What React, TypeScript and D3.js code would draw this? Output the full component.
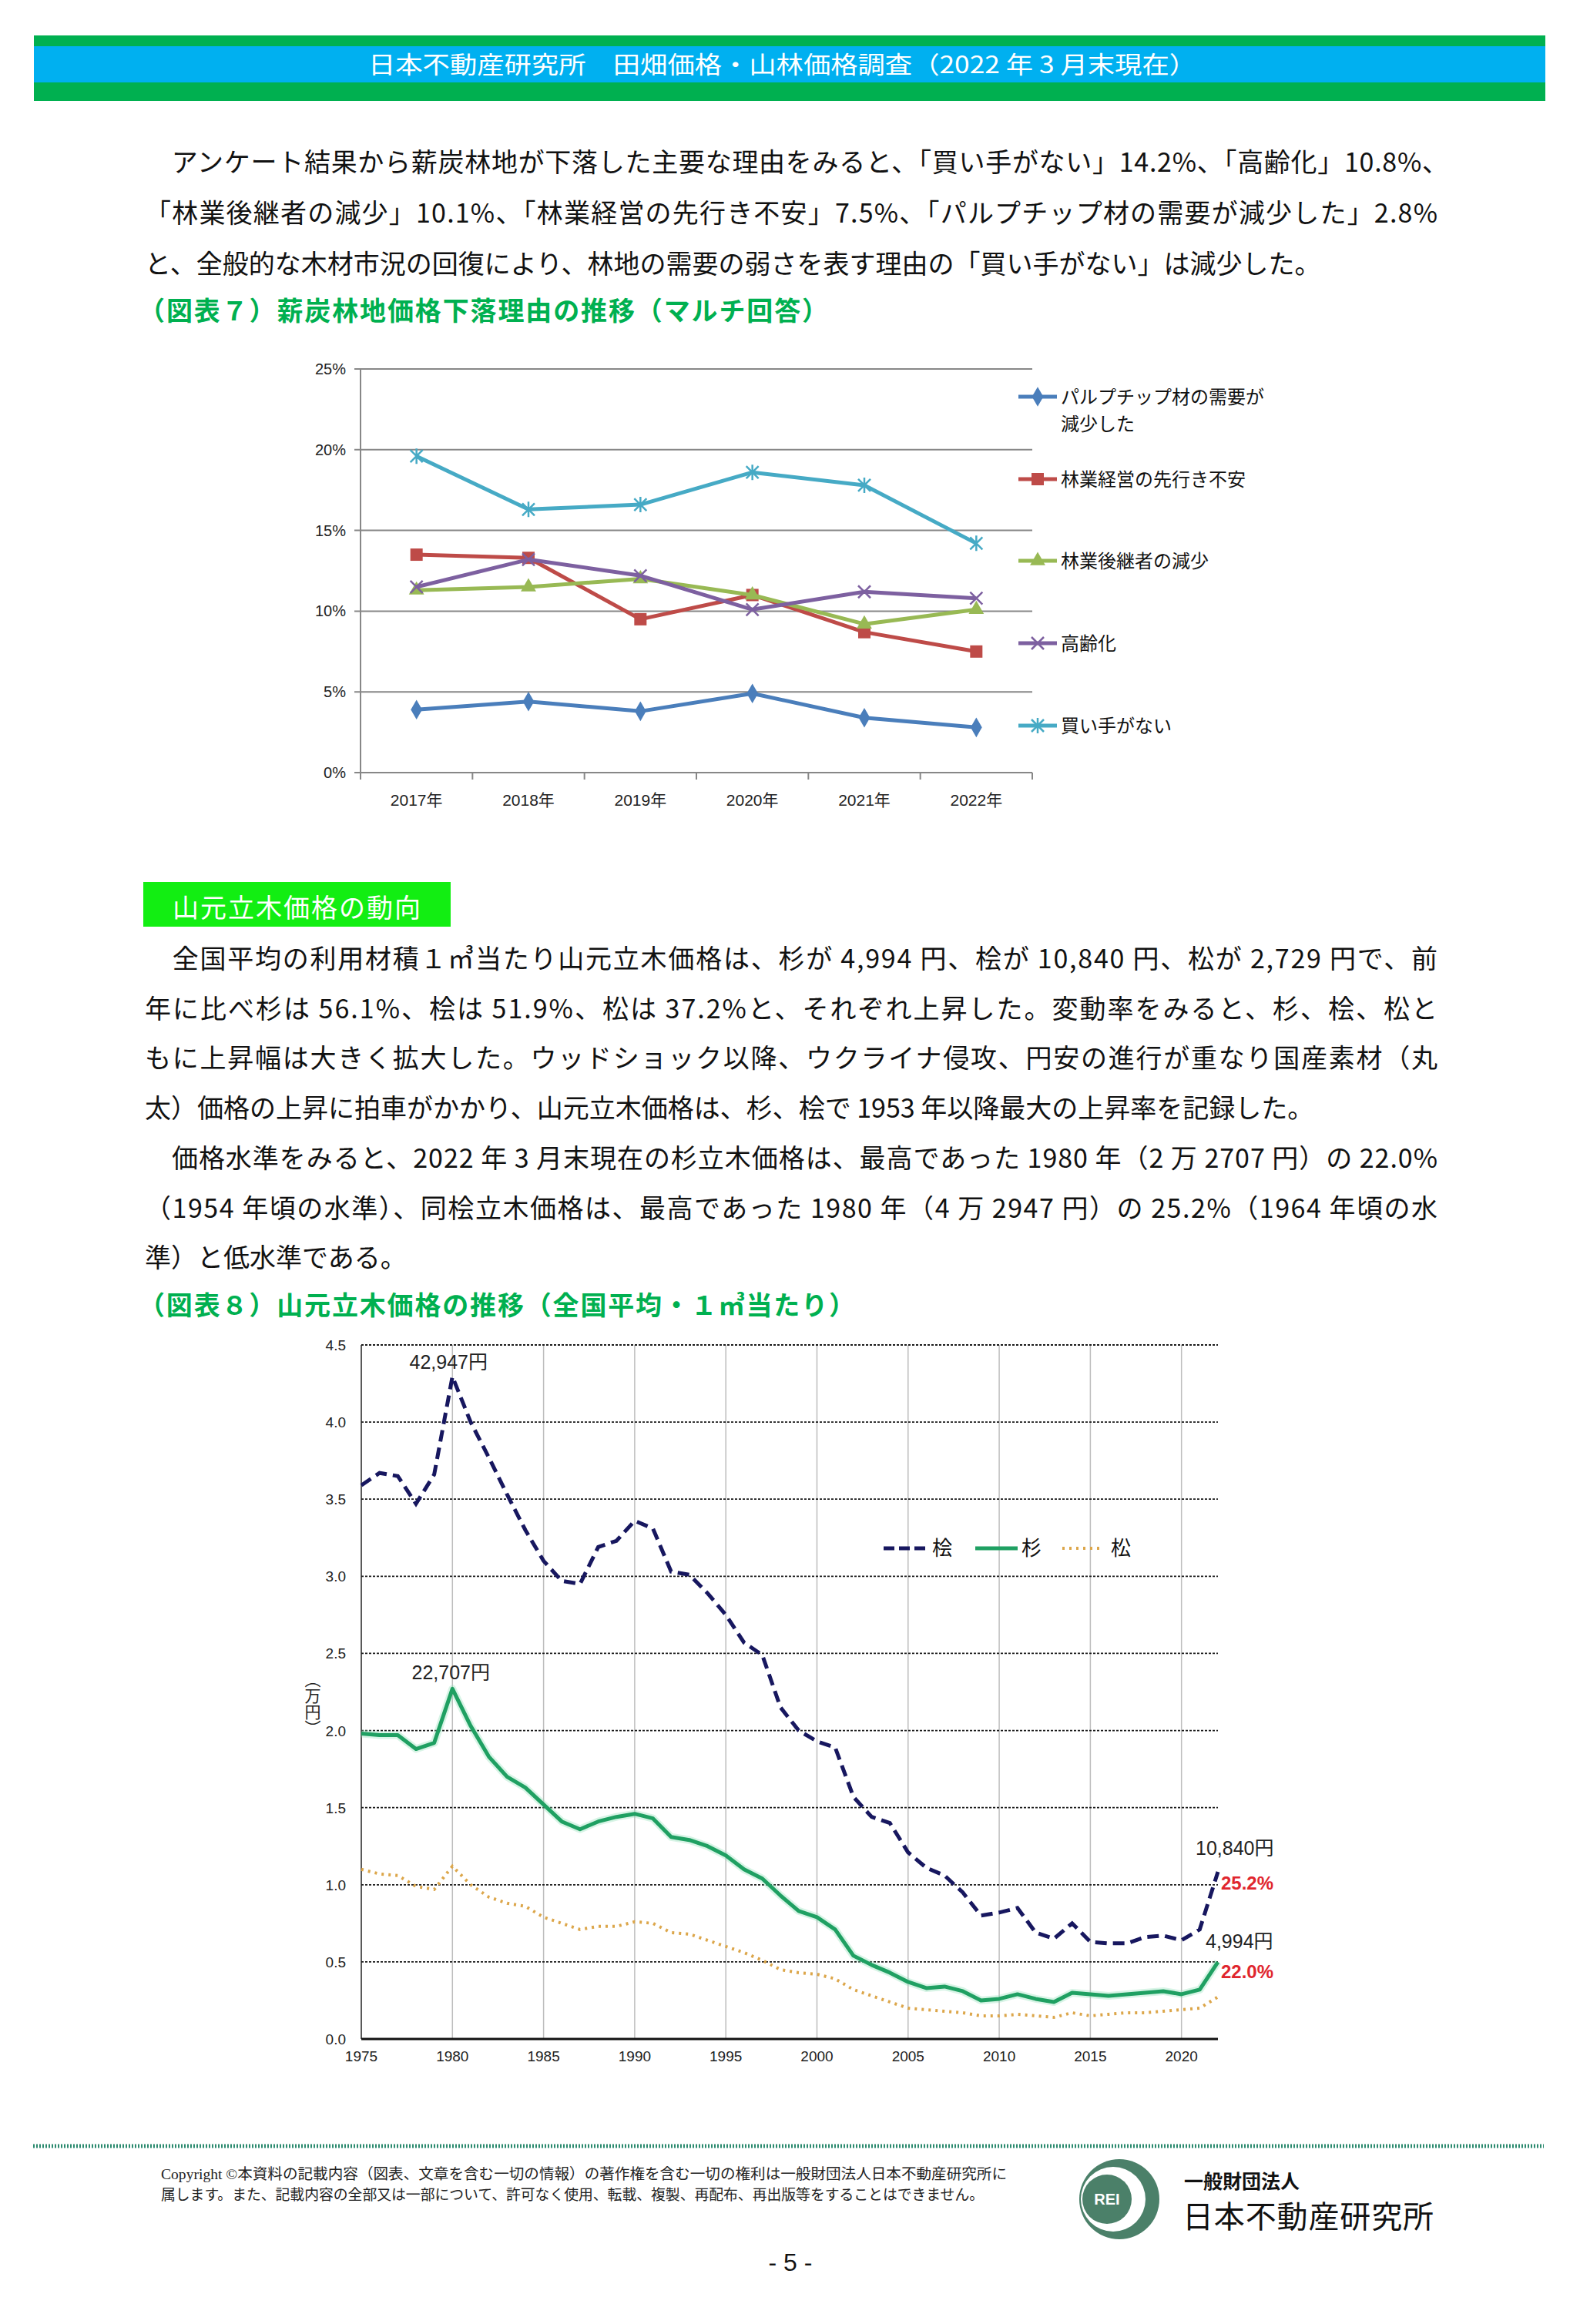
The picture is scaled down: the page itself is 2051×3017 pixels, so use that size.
import React from "react";
import * as d3 from "d3";

// ---- chart 7 : reasons for the fall in fuelwood forest land prices (%)
const reasonYears = ["2017年", "2018年", "2019年", "2020年", "2021年", "2022年"];
const pulpChipDemand = [3.9, 4.4, 3.8, 4.9, 3.4, 2.8];
const managementAnxiety = [13.5, 13.3, 9.5, 11.0, 8.7, 7.5];
const successorDecline = [11.3, 11.5, 12.0, 11.0, 9.2, 10.1];
const agingOwners = [11.5, 13.2, 12.2, 10.1, 11.2, 10.8];
const noBuyers = [19.6, 16.3, 16.6, 18.6, 17.8, 14.2];
const reasonTicks = [0, 5, 10, 15, 20, 25];

// ---- chart 8 : standing timber prices (10,000 yen per m3)
const priceYears = d3.range(1975, 2023);
const hinokiPrice = [
  3.59, 3.67, 3.65, 3.47, 3.66, 4.2947, 4.0, 3.77, 3.53, 3.3,
  3.1, 2.97, 2.95, 3.19, 3.23, 3.36, 3.31, 3.03, 3.01, 2.89,
  2.75, 2.57, 2.49, 2.15, 2.0, 1.93, 1.89, 1.57, 1.44, 1.4,
  1.21, 1.11, 1.06, 0.95, 0.8, 0.82, 0.85, 0.69, 0.65, 0.75,
  0.63, 0.62, 0.62, 0.66, 0.67, 0.64, 0.71, 1.084,
];
const sugiPrice = [
  1.98, 1.97, 1.97, 1.88, 1.92, 2.2707, 2.03, 1.83, 1.7, 1.63,
  1.52, 1.41, 1.36, 1.41, 1.44, 1.46, 1.43, 1.31, 1.29, 1.25,
  1.19, 1.1, 1.04, 0.93, 0.83, 0.79, 0.71, 0.54, 0.48, 0.43,
  0.37, 0.33, 0.34, 0.31, 0.25, 0.26, 0.29, 0.26, 0.24, 0.3,
  0.29, 0.28, 0.29, 0.3, 0.31, 0.29, 0.32, 0.4994,
];
const matsuPrice = [
  1.1, 1.07, 1.06, 0.99, 0.97, 1.12, 1.0, 0.92, 0.88, 0.86,
  0.79, 0.75, 0.71, 0.73, 0.73, 0.76, 0.75, 0.69, 0.68, 0.64,
  0.6, 0.56, 0.51, 0.45, 0.43, 0.42, 0.39, 0.32, 0.28, 0.24,
  0.2, 0.19, 0.18, 0.17, 0.15, 0.15, 0.16, 0.15, 0.14, 0.17,
  0.15, 0.16, 0.17, 0.17, 0.18, 0.19, 0.2, 0.2729,
];
const priceTicks = d3.range(0, 4.51, 0.5);
const priceYearTicks = d3.range(1975, 2021, 5);
const peakYear = 1980;
const hinokiLevelPct = "25.2%";
const sugiLevelPct = "22.0%";
const unitLabel = "（万円）";

// ---- page text
const headerTitle = "日本不動産研究所　田畑価格・山林価格調査（2022 年 3 月末現在）";
const introLines = [
  "　アンケート結果から薪炭林地が下落した主要な理由をみると、「買い手がない」14.2%、「高齢化」10.8%、",
  "「林業後継者の減少」10.1%、「林業経営の先行き不安」7.5%、「パルプチップ材の需要が減少した」2.8%",
  "と、全般的な木材市況の回復により、林地の需要の弱さを表す理由の「買い手がない」は減少した。",
];
const fig7Title = "（図表７）薪炭林地価格下落理由の推移（マルチ回答）";
const sectionTitle = "山元立木価格の動向";
const bodyLines = [
  "　全国平均の利用材積１㎥当たり山元立木価格は、杉が 4,994 円、桧が 10,840 円、松が 2,729 円で、前",
  "年に比べ杉は 56.1%、桧は 51.9%、松は 37.2%と、それぞれ上昇した。変動率をみると、杉、桧、松と",
  "もに上昇幅は大きく拡大した。ウッドショック以降、ウクライナ侵攻、円安の進行が重なり国産素材（丸",
  "太）価格の上昇に拍車がかかり、山元立木価格は、杉、桧で 1953 年以降最大の上昇率を記録した。",
  "　価格水準をみると、2022 年 3 月末現在の杉立木価格は、最高であった 1980 年（2 万 2707 円）の 22.0%",
  "（1954 年頃の水準）、同桧立木価格は、最高であった 1980 年（4 万 2947 円）の 25.2%（1964 年頃の水",
  "準）と低水準である。",
];
const bodyParagraphEnds = [3, 6];
const fig8Title = "（図表８）山元立木価格の推移（全国平均・１㎥当たり）";
const copyrightLines = [
  "Copyright ©本資料の記載内容（図表、文章を含む一切の情報）の著作権を含む一切の権利は一般財団法人日本不動産研究所に",
  "属します。また、記載内容の全部又は一部について、許可なく使用、転載、複製、再配布、再出版等をすることはできません。",
];

const JP = "'Noto Sans CJK JP', 'Noto Sans', sans-serif";
const NARROW = "'Liberation Sans Narrow', 'Liberation Sans', 'Noto Sans CJK JP', sans-serif";
const SANS = "'Liberation Sans', 'Noto Sans CJK JP', sans-serif";

type Marker = "diamond" | "square" | "triangle" | "times" | "star";

const reasonSeries: { label: string[]; values: number[]; color: string; marker: Marker }[] = [
  { label: ["パルプチップ材の需要が", "減少した"], values: pulpChipDemand, color: "#4A7EBB", marker: "diamond" },
  { label: ["林業経営の先行き不安"], values: managementAnxiety, color: "#BE4B48", marker: "square" },
  { label: ["林業後継者の減少"], values: successorDecline, color: "#98B954", marker: "triangle" },
  { label: ["高齢化"], values: agingOwners, color: "#7D60A0", marker: "times" },
  { label: ["買い手がない"], values: noBuyers, color: "#46AAC5", marker: "star" },
];

function MarkerShape({ kind, color }: { kind: Marker; color: string }) {
  if (kind === "diamond") return <path d={d3.symbol(d3.symbolDiamond, 190)()!} fill={color} />;
  if (kind === "square") return <rect x={-8} y={-8} width={16} height={16} fill={color} />;
  if (kind === "triangle") return <path d={d3.symbol(d3.symbolTriangle, 170)()!} fill={color} />;
  if (kind === "times")
    return <path d="M-8,-8L8,8M-8,8L8,-8" stroke={color} strokeWidth={2.5} fill="none" />;
  return <path d="M-8,-8L8,8M-8,8L8,-8M0,-10L0,10" stroke={color} strokeWidth={2.5} fill="none" />;
}

function ReasonChart() {
  const band = d3.scaleBand<string>().domain(reasonYears).range([468, 1340]);
  const x = d3.scalePoint<string>().domain(reasonYears).range([468, 1340]).padding(0.5);
  const y = d3.scaleLinear().domain([0, 25]).range([1003, 479]);
  const line = d3
    .line<number>()
    .x((_, i) => x(reasonYears[i])!)
    .y((d) => y(d));
  const legendY = [515, 622, 728, 835, 942];

  return (
    <g>
      {reasonTicks.map((t) => (
        <g key={t}>
          <line x1={460} x2={1340} y1={y(t)} y2={y(t)} stroke="#878787" strokeWidth={2} />
          <text x={449} y={y(t) + 7} textAnchor="end" fontSize={20} fontFamily={SANS} fill="#222">
            {t}%
          </text>
        </g>
      ))}
      <line x1={468} x2={468} y1={y(25)} y2={y(0)} stroke="#878787" strokeWidth={2} />
      {[...reasonYears.map((c) => band(c)!), 1340].map((bx, i) => (
        <line key={i} x1={bx} x2={bx} y1={y(0)} y2={y(0) + 9} stroke="#878787" strokeWidth={2} />
      ))}
      {reasonYears.map((c) => (
        <text key={c} x={x(c)!} y={1046} textAnchor="middle" fontSize={21} fontFamily={SANS} fill="#222">
          {c}
        </text>
      ))}
      {reasonSeries.map((s) => (
        <g key={s.label[0]}>
          <path d={line(s.values)!} fill="none" stroke={s.color} strokeWidth={5} strokeLinejoin="round" />
          {s.values.map((v, i) => (
            <g key={i} transform={`translate(${x(reasonYears[i])},${y(v)})`}>
              <MarkerShape kind={s.marker} color={s.color} />
            </g>
          ))}
        </g>
      ))}
      {reasonSeries.map((s, k) => (
        <g key={s.label[0]}>
          <line x1={1322} x2={1372} y1={legendY[k]} y2={legendY[k]} stroke={s.color} strokeWidth={5} />
          <g transform={`translate(1347,${legendY[k]})`}>
            <MarkerShape kind={s.marker} color={s.color} />
          </g>
          {s.label.map((t, j) => (
            <text key={j} x={1377} y={legendY[k] + 9 + j * 35} fontSize={24} fontFamily={JP} fill="#111">
              {t}
            </text>
          ))}
        </g>
      ))}
    </g>
  );
}

function PriceChart() {
  const x = d3.scaleLinear().domain([1975, 2022]).range([469, 1581]);
  const y = d3.scaleLinear().domain([0, 4.5]).range([2647, 1746]);
  const line = d3
    .line<number>()
    .x((_, i) => x(priceYears[i]))
    .y((d) => y(d));
  const last = priceYears.length - 1;
  const peak = priceYears.indexOf(peakYear);
  const xEnd = x(priceYears[last]);
  const fmtYen = (v: number) => d3.format(",")(Math.round(v * 10000)) + "円";

  return (
    <g>
      {priceYearTicks.slice(1).map((yr) => (
        <line key={yr} x1={x(yr)} x2={x(yr)} y1={y(4.5)} y2={y(0)} stroke="#BDBDBD" strokeWidth={1.5} />
      ))}
      {priceTicks.map((t) => (
        <g key={t}>
          {t > 0 && (
            <line x1={x(1975)} x2={x(2022)} y1={y(t)} y2={y(t)} stroke="#1a1a1a" strokeWidth={1.8} strokeDasharray="3,2" />
          )}
          <text x={449} y={y(t) + 7} textAnchor="end" fontSize={19} fontFamily={NARROW} fill="#222">
            {d3.format(".1f")(t)}
          </text>
        </g>
      ))}
      <line x1={x(1975)} x2={x(1975)} y1={y(4.5)} y2={y(0)} stroke="#222" strokeWidth={1.5} />
      <line x1={x(1975)} x2={x(2022)} y1={y(0)} y2={y(0)} stroke="#111" strokeWidth={3} />
      {priceYearTicks.map((yr) => (
        <text key={yr} x={x(yr)} y={2676} textAnchor="middle" fontSize={19} fontFamily={NARROW} fill="#222">
          {yr}
        </text>
      ))}
      <text x={406} y={2170} writingMode="vertical-rl" fontSize={21} fontFamily={JP} fill="#222">
        {unitLabel}
      </text>

      <path d={line(matsuPrice)!} fill="none" stroke="#DCA64A" strokeWidth={4} strokeDasharray="3,6" />
      <path d={line(sugiPrice)!} fill="none" stroke="#8FE0B8" strokeWidth={10} strokeOpacity={0.35} strokeLinejoin="round" />
      <path d={line(sugiPrice)!} fill="none" stroke="#1FA062" strokeWidth={5} strokeLinejoin="round" />
      <path d={line(hinokiPrice)!} fill="none" stroke="#17175F" strokeWidth={5} strokeDasharray="15,8" />

      <text x={x(peakYear) - 5} y={y(hinokiPrice[peak]) - 10} textAnchor="middle" fontSize={25} fontFamily={NARROW} fill="#222">
        {fmtYen(hinokiPrice[peak])}
      </text>
      <text x={x(peakYear) - 2} y={y(sugiPrice[peak]) - 12} textAnchor="middle" fontSize={25} fontFamily={NARROW} fill="#222">
        {fmtYen(sugiPrice[peak])}
      </text>
      <text x={xEnd - 29} y={y(hinokiPrice[last]) - 22} fontSize={25} fontFamily={NARROW} fill="#222">
        {fmtYen(hinokiPrice[last])}
      </text>
      <text x={xEnd + 4} y={y(hinokiPrice[last]) + 23} fontSize={24} fontWeight="bold" fontFamily={SANS} fill="#E0262E">
        {hinokiLevelPct}
      </text>
      <text x={xEnd - 16} y={y(sugiPrice[last]) - 18} fontSize={25} fontFamily={NARROW} fill="#222">
        {fmtYen(sugiPrice[last])}
      </text>
      <text x={xEnd + 4} y={y(sugiPrice[last]) + 21} fontSize={24} fontWeight="bold" fontFamily={SANS} fill="#E0262E">
        {sugiLevelPct}
      </text>

      <g fontFamily={JP} fontSize={26} fill="#111">
        <line x1={1147} x2={1201} y1={2010} y2={2010} stroke="#17175F" strokeWidth={5} strokeDasharray="14,6" />
        <text x={1210} y={2019}>桧</text>
        <line x1={1266} x2={1321} y1={2010} y2={2010} stroke="#1FA062" strokeWidth={5} />
        <text x={1326} y={2019}>杉</text>
        <line x1={1379} x2={1433} y1={2010} y2={2010} stroke="#DCA64A" strokeWidth={4} strokeDasharray="3,6" />
        <text x={1442} y={2019}>松</text>
      </g>
    </g>
  );
}

export default function App() {
  const textStart = 188;
  const textEnd = 1866;
  return (
    <svg
      width={2051}
      height={3017}
      viewBox="0 0 2051 3017"
      style={{ position: "absolute", left: 0, top: 0, background: "#fff" }}
    >
      <rect width={2051} height={3017} fill="#fff" />
      {/* header band */}
      <rect x={44} y={46} width={1962} height={85} fill="#00B050" />
      <rect x={44} y={60} width={1962} height={47} fill="#00B0F0" />
      <text x={478} y={95} fontSize={31} fontFamily={JP} fill="#fff" textLength={1075} lengthAdjust="spacingAndGlyphs">
        {headerTitle}
      </text>

      {/* intro paragraph */}
      {introLines.map((t, i) => (
        <text
          key={i}
          x={textStart}
          y={223 + i * 66}
          fontSize={34}
          fontFamily={JP}
          fill="#111"
          {...(i < introLines.length - 1 ? { textLength: textEnd - textStart + (i === 0 ? 14 : 0) } : {})}
        >
          {t}
        </text>
      ))}
      <text x={180} y={416} fontSize={34} fontWeight="bold" fontFamily={JP} fill="#00B050" textLength={895}>
        {fig7Title}
      </text>

      <ReasonChart />

      {/* section heading */}
      <rect x={186} y={1145} width={399} height={58} fill="#12EE12" />
      <text x={224} y={1191} fontSize={34} fontFamily={JP} fill="#fff" textLength={322}>
        {sectionTitle}
      </text>

      {bodyLines.map((t, i) => (
        <text
          key={i}
          x={textStart}
          y={1257 + i * 64.7}
          fontSize={34}
          fontFamily={JP}
          fill="#111"
          {...(!bodyParagraphEnds.includes(i) ? { textLength: textEnd - textStart } : {})}
        >
          {t}
        </text>
      ))}
      <text x={180} y={1707} fontSize={34} fontWeight="bold" fontFamily={JP} fill="#00B050" textLength={930}>
        {fig8Title}
      </text>

      <PriceChart />

      {/* footer */}
      <line x1={43} x2={2004} y1={2786} y2={2786} stroke="#2B8A6E" strokeWidth={5} strokeDasharray="2,2" />
      {copyrightLines.map((t, i) => (
        <text
          key={i}
          x={209}
          y={2829 + i * 27}
          fontSize={19}
          fontFamily="'Liberation Serif', 'Noto Sans CJK JP', serif"
          fill="#222"
          textLength={i === 0 ? 1098 : 1068}
          lengthAdjust="spacingAndGlyphs"
        >
          {t}
        </text>
      ))}
      <circle cx={1453} cy={2855} r={52} fill="#4B8069" />
      <circle cx={1445} cy={2855} r={42} fill="#fff" />
      <circle cx={1437} cy={2855} r={32} fill="#4B8069" />
      <text x={1437} y={2862} textAnchor="middle" fontSize={20} fontWeight="bold" fontFamily={SANS} fill="#fff">
        REI
      </text>
      <text x={1537} y={2841} fontSize={25} fontWeight="bold" fontFamily={JP} fill="#111">
        一般財団法人
      </text>
      <text x={1535} y={2892} fontSize={40} fontFamily={JP} fill="#111" textLength={326}>
        日本不動産研究所
      </text>
      <text x={1026} y={2948} textAnchor="middle" fontSize={32} fontFamily={NARROW} fill="#111">
        - 5 -
      </text>
    </svg>
  );
}
